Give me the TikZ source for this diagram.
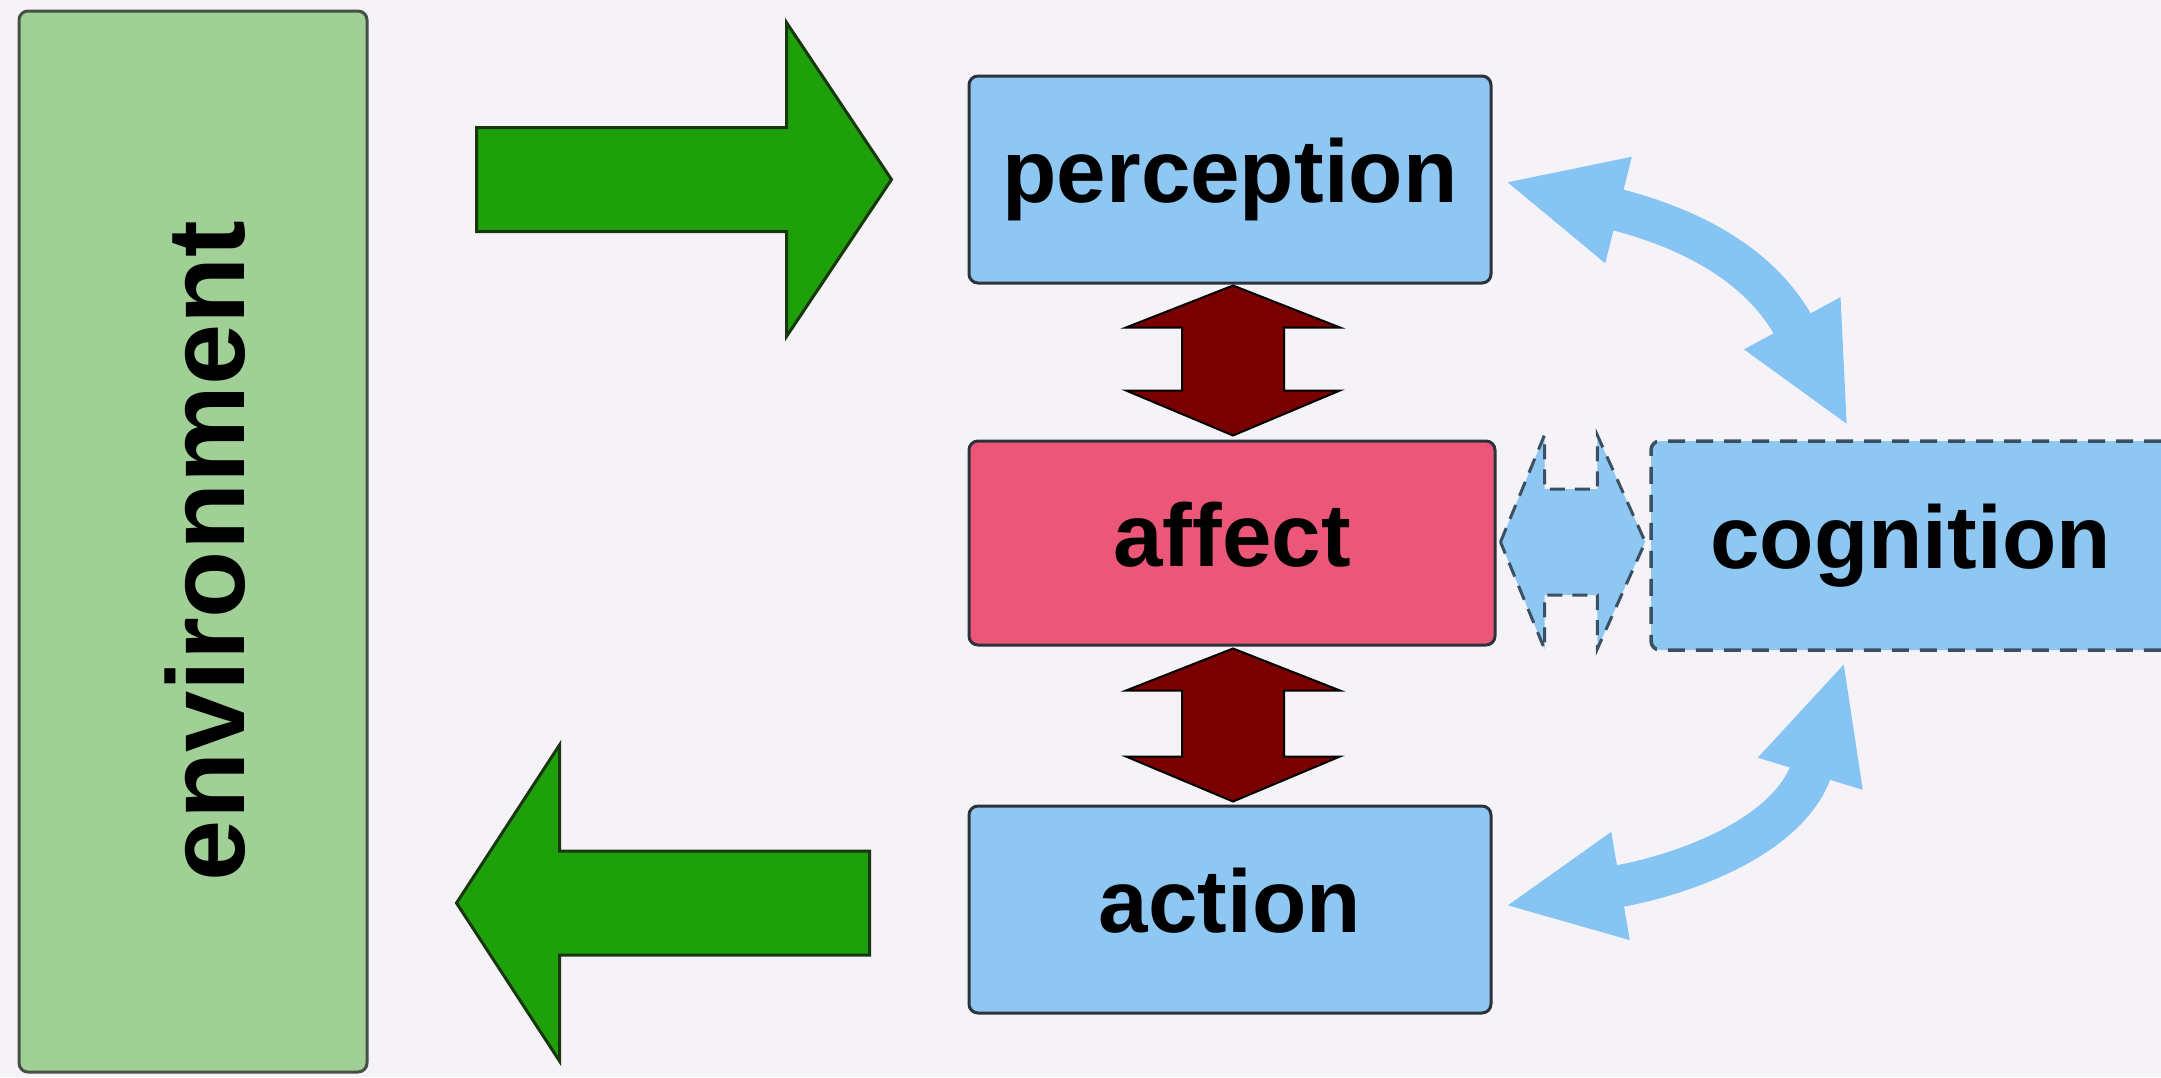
\documentclass[tikz,border=0pt]{standalone}
\usepackage{fontspec}
\setmainfont{Liberation Sans}
\usetikzlibrary{arrows.meta,calc}

\definecolor{bgcol}{RGB}{245,243,248}
\definecolor{envfill}{RGB}{160,208,150}
\definecolor{envline}{RGB}{70,80,70}
\definecolor{boxblue}{RGB}{142,200,242}
\definecolor{affectred}{RGB}{236,86,120}
\definecolor{boxline}{RGB}{45,50,60}
\definecolor{darkred}{RGB}{122,0,0}
\definecolor{arrowgreen}{RGB}{30,160,10}
\definecolor{greenline}{RGB}{25,55,15}
\definecolor{curveblue}{RGB}{134,196,243}
\definecolor{dashline}{RGB}{60,80,100}

% vertical double block arrow between two points (top, bottom)
\newcommand\vdblarrow[2]{%
  \draw[redarrow] let \p1=(#1), \p2=(#2) in
    (\x1,\y1) -- (\x1+107pt,\y1-42pt) -- (\x1+51pt,\y1-42pt)
    -- (\x1+51pt,\y2+45pt) -- (\x1+107pt,\y2+45pt) -- (\x1,\y2)
    -- (\x1-107pt,\y2+45pt) -- (\x1-51pt,\y2+45pt)
    -- (\x1-51pt,\y1-42pt) -- (\x1-107pt,\y1-42pt) -- cycle;}

\tikzset{
  boxfont/.style={font=\bfseries\fontsize{89}{100}\selectfont, text height=65pt, text depth=19pt},
  stagebox/.style={boxfont, draw=boxline, line width=3pt, rounded corners=9pt, inner sep=0pt, fill=boxblue},
  envbox/.style={draw=envline, line width=3pt, rounded corners=9pt, fill=envfill, inner sep=0pt},
  redarrow/.style={fill=darkred, draw=black, line width=2pt, line join=miter},
  greenarrow/.style={fill=arrowgreen, draw=greenline, line width=3pt, line join=miter},
  dashedarrow/.style={fill=boxblue, draw=dashline, line width=3pt, dash pattern=on 15pt off 10pt},
  % the curve runs between the two head bases; the heads sit beyond them
  curvy/.style={draw=curveblue, line width=42pt,
    shorten <=-118pt, shorten >=-118pt,
    {Triangle[length=118pt,width=100pt]}-{Triangle[length=118pt,width=100pt]}},
}

\begin{document}
\begin{tikzpicture}[x=1pt,y=-1pt]
\useasboundingbox (0,0) rectangle (2161,1077);
\clip (0,0) rectangle (2161,1077);
\fill[bgcol] (0,0) rectangle (2161,1077);

% environment column
\node[envbox, minimum width=348pt, minimum height=1061pt] (env) at (193,541.5) {};
\node[rotate=90, font=\bfseries\fontsize{110}{120}\selectfont, inner sep=0pt] (envlabel) at (205,551) {environment};

% stages
\node[stagebox, minimum width=522pt, minimum height=207pt] (perception) at (1230,179.5) {perception};
\node[stagebox, fill=affectred, minimum width=526pt, minimum height=204pt] (affect) at (1232,543) {affect};
\node[stagebox, minimum width=522pt, minimum height=207pt] (action) at (1230,909.5) {action};
\node[stagebox, dashed, draw=dashline, line width=3.5pt, dash pattern=on 17pt off 11pt,
      minimum width=519pt, minimum height=209pt] (cognition) at (1910.5,545.5) {cognition};

% environment -> perception
\draw[greenarrow] let \p1=(env.east), \p2=(perception.west) in
  (\x1+108pt,\y2+52pt) -- (\x2-181pt,\y2+52pt) -- (\x2-181pt,\y2+157pt)
  -- (\x2-76pt,\y2) -- (\x2-181pt,\y2-157pt) -- (\x2-181pt,\y2-52pt)
  -- (\x1+108pt,\y2-52pt) -- cycle;

% action -> environment
\draw[greenarrow] let \p1=(env.east), \p2=([yshift=6.5pt]action.west) in
  (\x2-98pt,\y2+52pt) -- (\x1+191pt,\y2+52pt) -- (\x1+191pt,\y2+158pt)
  -- (\x1+88pt,\y2) -- (\x1+191pt,\y2-158pt) -- (\x1+191pt,\y2-52pt)
  -- (\x2-98pt,\y2-52pt) -- cycle;

% perception <-> affect <-> action
\vdblarrow{[xshift=3pt,yshift=-1pt]perception.south}{[xshift=3pt,yshift=4pt]affect.north}
\vdblarrow{[xshift=1pt,yshift=-2pt]affect.south}{[xshift=3pt,yshift=3pt]action.north}

% affect <-> cognition (dashed)
\draw[dashedarrow] let \p1=([xshift=4pt,yshift=1pt]affect.east), \p2=([xshift=-4pt,yshift=3.5pt]cognition.west) in
  (\x1,\y1) -- (\x1+44pt,\y1+107pt) -- (\x1+44pt,\y1+53pt)
  -- (\x2-48pt,\y1+53pt) -- (\x2-48pt,\y1+107pt) -- (\x2,\y1)
  -- (\x2-48pt,\y1-107pt) -- (\x2-48pt,\y1-53pt)
  -- (\x1+44pt,\y1-53pt) -- (\x1+44pt,\y1-107pt) -- cycle;

% perception <-> cognition, action <-> cognition
\draw[curvy] ([xshift=126pt,yshift=-30.5pt]perception.east)
  .. controls +(68,17) and +(-33,-61) ..
  ([xshift=143pt,yshift=116pt]cognition.north west);
\draw[curvy] ([xshift=128pt,yshift=23.5pt]action.east)
  .. controls +(64,-11) and +(-19,62) ..
  ([xshift=161pt,yshift=-122pt]cognition.south west);
\end{tikzpicture}
\end{document}
